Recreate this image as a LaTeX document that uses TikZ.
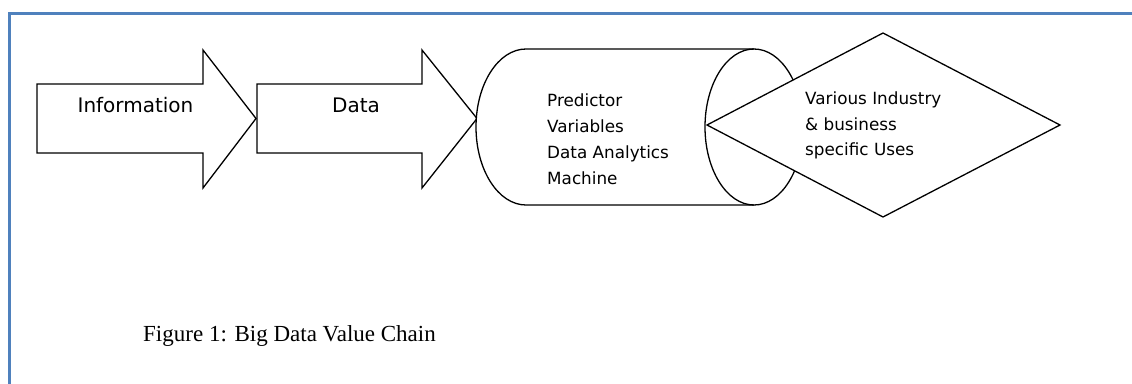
\documentclass[tikz,border=0pt]{standalone}
\usepackage{fontspec}
\setmainfont{Liberation Serif}
\newfontfamily\diagfont{DejaVu Sans}
\definecolor{frameblue}{RGB}{79,129,189}
\tikzset{
  shapeline/.style={draw=black, line width=1.3pt, fill=white, line join=miter},
  biglabel/.style={font=\diagfont\fontsize{20}{24}\selectfont, inner sep=0pt, anchor=base},
  smalllabel/.style={font=\diagfont\fontsize{16.8}{20}\selectfont, inner sep=0pt, anchor=base west},
  captionlabel/.style={font=\fontsize{23}{27}\selectfont, inner sep=0pt, anchor=base west}
}
\begin{document}
\begin{tikzpicture}[x=1pt, y=-1pt]
\useasboundingbox (0,0) rectangle (1132,383);
% frame
\draw[frameblue, line width=2.8pt] (9.8,390) -- (9.8,13.8) -- (1140,13.8);
% arrow 1
\path[shapeline] (37,84) -- (203,84) -- (203,50) -- (256,118.5) -- (203,188) -- (203,153) -- (37,153) -- cycle;
\node[biglabel] (info) at (135.5,112) {Information};
% arrow 2
\path[shapeline] (257,84) -- (422,84) -- (422,50) -- (477,118.5) -- (422,188) -- (422,153) -- (257,153) -- cycle;
\node[biglabel] (data) at (356,112) {Data};
% cylinder
\path[shapeline] (754,49) -- (526,49) arc[start angle=90, end angle=270, x radius=50pt, y radius=78pt] -- (754,205);
\draw[line width=1.3pt] (754,127) ellipse [x radius=49pt, y radius=78pt];
\node[smalllabel] (pv1) at (547,106) {Predictor};
\node[smalllabel] (pv2) at (547,132) {Variables};
\node[smalllabel] (pv3) at (547,158) {Data Analytics};
\node[smalllabel] (pv4) at (547,184) {Machine};
% diamond
\path[shapeline] (707,125) -- (883,33) -- (1060,125) -- (883,217) -- cycle;
\node[smalllabel] (du1) at (805,104) {Various Industry};
\node[smalllabel] (du2) at (805,130) {\& business};
\node[smalllabel] (du3) at (805,155) {specific Uses};
% caption
\node[captionlabel] (cap) at (143,341) {Figure 1: Big Data Value Chain};
\end{tikzpicture}
\end{document}
